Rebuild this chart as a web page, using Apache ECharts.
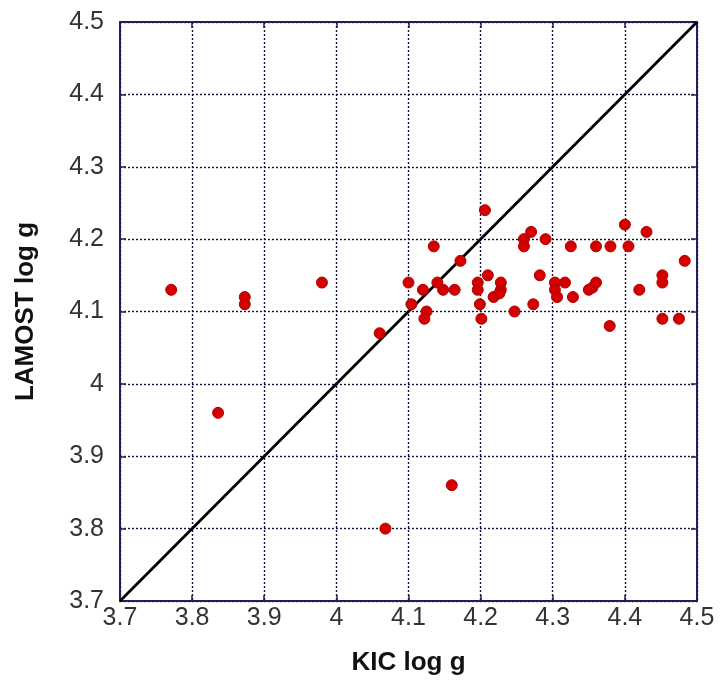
<!DOCTYPE html>
<html>
<head>
<meta charset="utf-8">
<script src="https://cdn.jsdelivr.net/npm/echarts@6/dist/echarts.min.js"></script>
<style>
html,body{margin:0;padding:0;background:#fff;}
#chart{width:720px;height:684px;}
</style>
</head>
<body>
<div id="chart"></div>
<script>
// KIC log g (x) vs LAMOST log g (y)
var kicLogg = [3.771, 3.873, 3.873, 3.98, 3.836, 4.068, 4.16, 4.06,
  4.206, 4.40, 4.43, 4.26, 4.27, 4.29, 4.26, 4.135, 4.325, 4.36, 4.38, 4.405,
  4.172, 4.483, 4.10, 4.14, 4.12, 4.148, 4.164, 4.196, 4.196, 4.21,
  4.228, 4.228, 4.218, 4.226, 4.199, 4.201, 4.104, 4.125, 4.122, 4.247,
  4.273, 4.282, 4.303, 4.303, 4.306, 4.317, 4.328, 4.35, 4.355, 4.36,
  4.42, 4.452, 4.452, 4.452, 4.475, 4.379];
var lamostLogg = [4.13, 4.12, 4.11, 4.14, 3.96, 3.80, 3.86, 4.07,
  4.24, 4.22, 4.21, 4.20, 4.21, 4.20, 4.19, 4.19, 4.19, 4.19, 4.19, 4.19,
  4.17, 4.17, 4.14, 4.14, 4.13, 4.13, 4.13, 4.14, 4.13, 4.15,
  4.14, 4.13, 4.12, 4.125, 4.11, 4.09, 4.11, 4.10, 4.09, 4.10,
  4.11, 4.15, 4.14, 4.13, 4.12, 4.14, 4.12, 4.13, 4.133, 4.14,
  4.13, 4.15, 4.14, 4.09, 4.09, 4.08];
var oneToOneX = [3.7, 4.5];
var oneToOneY = [3.7, 4.5];
var axisMin = 3.7, axisMax = 4.5, axisStep = 0.1;

var scatterData = kicLogg.map(function (x, i) { return [x, lamostLogg[i]]; });
var lineData = oneToOneX.map(function (x, i) { return [x, oneToOneY[i]]; });

var FONT = '"Liberation Sans", Arial, sans-serif';
var frameColor = '#1f1f5c';
function fmt(v) { return String(+v.toFixed(1)); }

function mainAxis(extraLabel) {
  return {
    type: 'value', min: axisMin, max: axisMax, interval: axisStep,
    axisLine: { show: true, lineStyle: { color: frameColor, width: 2 } },
    axisTick: { show: true, inside: true, length: 6, lineStyle: { color: frameColor, width: 1.5 } },
    splitLine: { show: true, lineStyle: { color: '#12123a', width: 1.4, type: [2, 2] } },
    axisLabel: Object.assign({ color: '#333', fontSize: 25, fontFamily: FONT, formatter: fmt }, extraLabel)
  };
}
function mirrorAxis(pos) {
  return {
    type: 'value', min: axisMin, max: axisMax, interval: axisStep, position: pos,
    axisLine: { show: true, lineStyle: { color: frameColor, width: 2 } },
    axisTick: { show: true, inside: true, length: 6, lineStyle: { color: frameColor, width: 1.5 } },
    splitLine: { show: false },
    axisLabel: { show: false }
  };
}

var xMain = mainAxis({ margin: 5 });
xMain.name = 'KIC log g';
xMain.nameLocation = 'middle';
xMain.nameGap = 49;
xMain.nameTextStyle = { fontSize: 26, fontWeight: 'bold', color: '#111', fontFamily: FONT };

var yMain = mainAxis({ margin: 16, padding: [0, 0, 8, 0] });
yMain.name = 'LAMOST log g';
yMain.nameLocation = 'middle';
yMain.nameGap = 81;
yMain.nameTextStyle = { fontSize: 26, fontWeight: 'bold', color: '#111', fontFamily: FONT };

var chart = echarts.init(document.getElementById('chart'), null, { renderer: 'canvas' });
chart.setOption({
  animation: false,
  backgroundColor: '#fff',
  grid: { left: 120, right: 23, top: 22, bottom: 83, containLabel: false },
  xAxis: [xMain, mirrorAxis('top')],
  yAxis: [yMain, mirrorAxis('right')],
  series: [
    {
      type: 'line', data: lineData, showSymbol: false, symbol: 'none',
      lineStyle: { color: '#000', width: 2.8 }, z: 3
    },
    {
      type: 'scatter', data: scatterData, symbolSize: 11,
      itemStyle: { color: '#d40000', borderColor: '#b00000', borderWidth: 1, opacity: 1 }, z: 4
    }
  ]
});
</script>
</body>
</html>
